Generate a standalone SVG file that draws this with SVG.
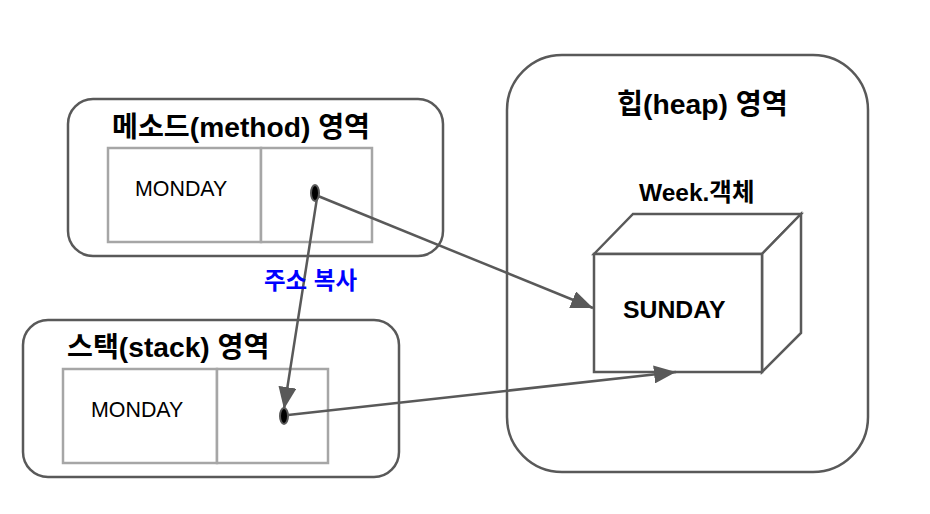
<svg xmlns="http://www.w3.org/2000/svg" width="930" height="514" viewBox="0 0 930 514">
<style>
.area{fill:#ffffff;stroke:#595959;stroke-width:2.5}
.cell{fill:#ffffff;stroke:#a6a6a6;stroke-width:2.5}
.cube{fill:#ffffff;stroke:#595959;stroke-width:2.5;stroke-linejoin:miter}
.title{font-family:"Liberation Sans","Noto Sans CJK KR",sans-serif;font-weight:bold;fill:#000000}
.val{font-family:"Liberation Sans","Noto Sans CJK KR",sans-serif;font-size:21.4px;fill:#000000}
.dot{fill:#000000;stroke:#595959;stroke-width:2}
.conn{fill:none;stroke:#595959;stroke-width:2.5}
.lbl{font-family:"Liberation Sans","Noto Sans CJK KR",sans-serif;font-weight:bold;font-size:23.5px;fill:#0000ff}
</style>
<defs>
<marker id="arr" markerUnits="userSpaceOnUse" markerWidth="24" markerHeight="18" refX="22" refY="9" orient="auto">
<path d="M0,0 L22,9 L0,18 z" fill="#595959"/>
</marker>
</defs>
<rect width="930" height="514" fill="#ffffff"/>
<g id="heap">
<rect class="area" x="507" y="55" width="361" height="417" rx="55" ry="55"/>
<text class="title" x="617" y="114" font-size="28.3">힙(heap) 영역</text>
</g>
<g id="week-object">
<text class="title" x="639" y="201" font-size="24.5">Week.객체</text>
<polygon class="cube" points="594,254 633,214 801,214 762,254"/>
<polygon class="cube" points="762,254 801,214 801,333 762,372"/>
<rect class="cube" x="594" y="254" width="168" height="118"/>
<text class="title" x="623" y="318" font-size="24.8">SUNDAY</text>
</g>
<g id="method-area">
<rect class="area" x="68" y="99" width="375" height="157" rx="25" ry="25"/>
<text class="title" x="112" y="137" font-size="28.2">메소드(method) 영역</text>
<rect class="cell" x="108" y="148" width="153" height="94"/>
<rect class="cell" x="261" y="148" width="111" height="94"/>
<text class="val" x="135" y="196">MONDAY</text>
</g>
<g id="stack-area">
<rect class="area" x="23" y="320" width="376" height="157" rx="25" ry="25"/>
<text class="title" x="67" y="357" font-size="28.2">스택(stack) 영역</text>
<rect class="cell" x="63" y="369" width="154" height="94"/>
<rect class="cell" x="217" y="369" width="111" height="94"/>
<text class="val" x="91" y="417">MONDAY</text>
</g>
<g id="connectors">
<line class="conn" x1="318" y1="196" x2="593" y2="308" marker-end="url(#arr)"/>
<line class="conn" x1="317" y1="198" x2="284" y2="409" marker-end="url(#arr)"/>
<line class="conn" x1="288" y1="415" x2="676" y2="372" marker-end="url(#arr)"/>
<text class="lbl" x="264" y="289">주소 복사</text>
</g>
<g id="method-pointer">
<ellipse class="dot" cx="315" cy="193" rx="4" ry="8"/>
</g>
<g id="stack-pointer">
<ellipse class="dot" cx="284" cy="416" rx="4" ry="8"/>
</g>
</svg>
